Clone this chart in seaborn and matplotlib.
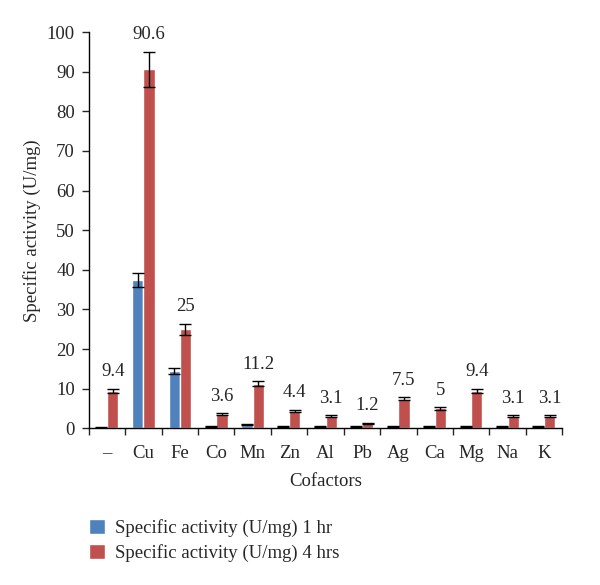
import numpy as np
import pandas as pd
import matplotlib
matplotlib.use("Agg")
import matplotlib.pyplot as plt
import seaborn as sns

sns.set_style("ticks")
plt.rcParams["font.family"] = ["Liberation Serif", "DejaVu Serif"]

# data
cofactors = ["\u2013", "Cu", "Fe", "Co", "Mn", "Zn", "Al", "Pb", "Ag", "Ca", "Mg", "Na", "K"]
act_1hr = [0.1, 37.5, 14.5, 0.5, 0.9, 0.5, 0.5, 0.5, 0.5, 0.5, 0.5, 0.5, 0.5]
err_1hr = [0.1, 1.8, 0.8, 0.15, 0.15, 0.15, 0.15, 0.15, 0.15, 0.15, 0.15, 0.15, 0.15]
act_4hr = [9.4, 90.6, 25, 3.6, 11.2, 4.4, 3.1, 1.2, 7.5, 5, 9.4, 3.1, 3.1]
err_4hr = [0.6, 4.5, 1.4, 0.25, 0.6, 0.3, 0.25, 0.2, 0.4, 0.3, 0.6, 0.25, 0.25]
labels_4hr = ["9.4", "90.6", "25", "3.6", "11.2", "4.4", "3.1", "1.2", "7.5", "5", "9.4", "3.1", "3.1"]
series = ["Specific activity (U/mg) 1 hr", "Specific activity (U/mg) 4 hrs"]

df = pd.DataFrame({
    "Cofactors": cofactors * 2,
    "value": act_1hr + act_4hr,
    "err": err_1hr + err_4hr,
    "series": [series[0]] * len(cofactors) + [series[1]] * len(cofactors),
})

FS = 13.5

fig = plt.figure(figsize=(6, 5.85), dpi=100)
ax = fig.add_axes([0.148, 0.268, 0.789, 0.677])

sns.barplot(data=df, x="Cofactors", y="value", hue="series",
            palette=["#4F81BD", "#C0504D"], errorbar=None, width=0.62,
            saturation=1, ax=ax, legend=True)

# error bars on top of the bars, using bar centres from the plot
n = len(cofactors)
bars = ax.patches[:2 * n]
for i, bar in enumerate(bars):
    xc = bar.get_x() + bar.get_width() / 2
    val = df["value"].iloc[i]
    err = df["err"].iloc[i]
    ax.errorbar(xc, val, yerr=err, fmt="none",
                ecolor="black", elinewidth=1.0, capsize=4, capthick=1.0)
    if i >= n:
        ax.annotate(labels_4hr[i - n], (xc, val + err),
                    xytext=(0, 6), textcoords="offset points",
                    ha="center", va="bottom", fontsize=FS)

ax.set_ylim(0, 100)
ax.set_xlim(-0.5, n - 0.5)
ax.set_yticks(range(0, 101, 10))
ax.set_xticks(np.arange(n))
ax.set_xticklabels(cofactors)
ax.set_xticks(np.arange(n + 1) - 0.5, minor=True)
ax.tick_params(axis="x", which="major", length=0, pad=12, labelsize=FS)
ax.tick_params(axis="x", which="minor", length=5, width=1)
ax.tick_params(axis="y", length=5, width=1, labelsize=FS, pad=5)
ax.set_xlabel("Cofactors", fontsize=FS, labelpad=8)
ax.set_ylabel("Specific activity (U/mg)", fontsize=FS, labelpad=4)
sns.despine(ax=ax)
for s in ["left", "bottom"]:
    ax.spines[s].set_linewidth(1)
    ax.spines[s].set_color("black")

handles, lbls = ax.get_legend_handles_labels()
ax.get_legend().remove()
fig.legend(handles, lbls, loc="upper left", bbox_to_anchor=(0.136, 0.126),
           frameon=False, fontsize=FS, handlelength=0.85, handleheight=0.85,
           handletextpad=0.55, labelspacing=0.4, borderaxespad=0)

fig.savefig("out.png", dpi=100)
